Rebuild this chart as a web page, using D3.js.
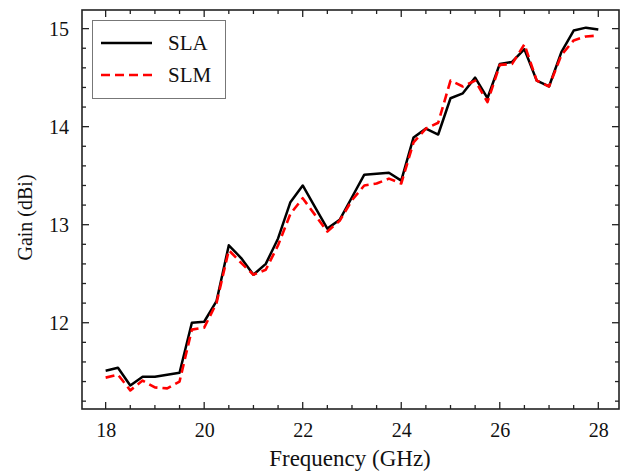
<!DOCTYPE html>
<html>
<head>
<meta charset="utf-8">
<script src="https://cdn.jsdelivr.net/npm/d3@7"></script>
<style>
  html, body { margin: 0; padding: 0; background: #fff; }
  svg { display: block; font-family: "Liberation Serif", "Times New Roman", serif; }
</style>
</head>
<body>
<svg id="chart" width="624" height="472"></svg>
<script>
// Frequency sweep (GHz), 0.25 GHz steps
const freq = [18, 18.25, 18.5, 18.75, 19, 19.25, 19.5, 19.75, 20, 20.25, 20.5, 20.75,
  21, 21.25, 21.5, 21.75, 22, 22.25, 22.5, 22.75, 23, 23.25, 23.5, 23.75, 24, 24.25,
  24.5, 24.75, 25, 25.25, 25.5, 25.75, 26, 26.25, 26.5, 26.75, 27, 27.25, 27.5, 27.75, 28];

// Gain of the SLA (dBi)
const gainSLA = [11.51, 11.54, 11.36, 11.45, 11.45, 11.47, 11.49, 12.00, 12.01, 12.22, 12.79, 12.66,
  12.49, 12.60, 12.86, 13.23, 13.40, 13.18, 12.96, 13.05, 13.28, 13.51, 13.52, 13.53, 13.45, 13.89,
  13.98, 13.92, 14.29, 14.34, 14.50, 14.29, 14.64, 14.66, 14.79, 14.47, 14.41, 14.76, 14.98, 15.01, 14.99];

// Gain of the SLM (dBi)
const gainSLM = [11.44, 11.47, 11.31, 11.41, 11.34, 11.33, 11.40, 11.93, 11.95, 12.20, 12.74, 12.61,
  12.49, 12.54, 12.79, 13.11, 13.27, 13.10, 12.93, 13.04, 13.25, 13.40, 13.42, 13.47, 13.42, 13.84,
  13.98, 14.04, 14.47, 14.41, 14.47, 14.25, 14.63, 14.64, 14.84, 14.47, 14.41, 14.73, 14.88, 14.92, 14.93];

const xTicks = [18, 20, 22, 24, 26, 28];
const yTicks = [12, 13, 14, 15];
const seriesNames = ["SLA", "SLM"];

const svg = d3.select("#chart");
const mLeft = 82, mRight = 619, mTop = 10, mBottom = 409;

const x = d3.scaleLinear().domain([17.52, 28.42]).range([mLeft, mRight]);
const y = d3.scaleLinear().domain([11.12, 15.19]).range([mBottom, mTop]);

const frameColor = "#222";

// Inward ticks on all four sides: majors labelled, minors unlabelled
const xMinor = d3.range(18, 28.01, 0.5);
const yMinor = d3.range(11.2, 15.19, 0.2);
const tickG = svg.append("g").attr("stroke", frameColor).attr("stroke-width", 1.3);
xMinor.forEach(v => {
  const major = Math.abs(v - Math.round(v / 2) * 2) < 1e-6;
  const len = major ? 7 : 4;
  tickG.append("line").attr("x1", x(v)).attr("x2", x(v)).attr("y1", mBottom).attr("y2", mBottom - len);
  tickG.append("line").attr("x1", x(v)).attr("x2", x(v)).attr("y1", mTop).attr("y2", mTop + len);
});
yMinor.forEach(v => {
  const major = Math.abs(v - Math.round(v)) < 1e-6;
  const len = major ? 7 : 4;
  tickG.append("line").attr("x1", mLeft).attr("x2", mLeft + len).attr("y1", y(v)).attr("y2", y(v));
  tickG.append("line").attr("x1", mRight).attr("x2", mRight - len).attr("y1", y(v)).attr("y2", y(v));
});

// Tick labels through the library's axes
const xAxis = svg.append("g")
  .attr("transform", `translate(0,${mBottom})`)
  .call(d3.axisBottom(x).tickValues(xTicks).tickSize(0).tickPadding(14).tickFormat(d3.format("d")));
xAxis.select(".domain").remove();
xAxis.selectAll("text").attr("font-size", 20).attr("fill", "#111").attr("font-family", "Liberation Serif");

const yAxis = svg.append("g")
  .attr("transform", `translate(${mLeft},0)`)
  .call(d3.axisLeft(y).tickValues(yTicks).tickSize(0).tickPadding(13).tickFormat(d3.format("d")));
yAxis.select(".domain").remove();
yAxis.selectAll("text").attr("font-size", 20).attr("fill", "#111").attr("font-family", "Liberation Serif");

// Curves
const line = d3.line().x((d, i) => x(freq[i])).y(d => y(d));
const plot = svg.append("g");
plot.append("path").datum(gainSLA)
  .attr("d", line).attr("fill", "none").attr("stroke", "#000")
  .attr("stroke-width", 2.5).attr("stroke-linejoin", "round");
plot.append("path").datum(gainSLM)
  .attr("d", line).attr("fill", "none").attr("stroke", "#f00")
  .attr("stroke-width", 2.6).attr("stroke-dasharray", "9,5").attr("stroke-linejoin", "round");

// Frame
svg.append("rect").attr("x", mLeft).attr("y", mTop).attr("width", mRight - mLeft).attr("height", mBottom - mTop)
  .attr("fill", "none").attr("stroke", frameColor).attr("stroke-width", 1.6);

// Axis titles
svg.append("text").attr("x", (mLeft + mRight) / 2 - 0.5).attr("y", 466)
  .attr("text-anchor", "middle").attr("font-size", 23).attr("fill", "#111").text("Frequency (GHz)");
svg.append("text").attr("transform", `translate(32,${(mTop + mBottom) / 2 + 8}) rotate(-90)`)
  .attr("text-anchor", "middle").attr("font-size", 20).attr("fill", "#111").text("Gain (dBi)");

// Legend
const legend = svg.append("g");
legend.append("rect").attr("x", 92.5).attr("y", 20.5).attr("width", 133).attr("height", 78)
  .attr("fill", "#fff").attr("stroke", "#777").attr("stroke-width", 1);
const legendStyles = [
  { color: "#000", dash: null },
  { color: "#f00", dash: "9,5" }
];
seriesNames.forEach((name, i) => {
  const cy = 43 + i * 32;
  legend.append("line").attr("x1", 101).attr("x2", 152).attr("y1", cy).attr("y2", cy)
    .attr("stroke", legendStyles[i].color).attr("stroke-width", 2.6)
    .attr("stroke-dasharray", legendStyles[i].dash);
  legend.append("text").attr("x", 168).attr("y", cy + 7).attr("font-size", 21).attr("fill", "#111").text(name);
});
</script>
</body>
</html>
